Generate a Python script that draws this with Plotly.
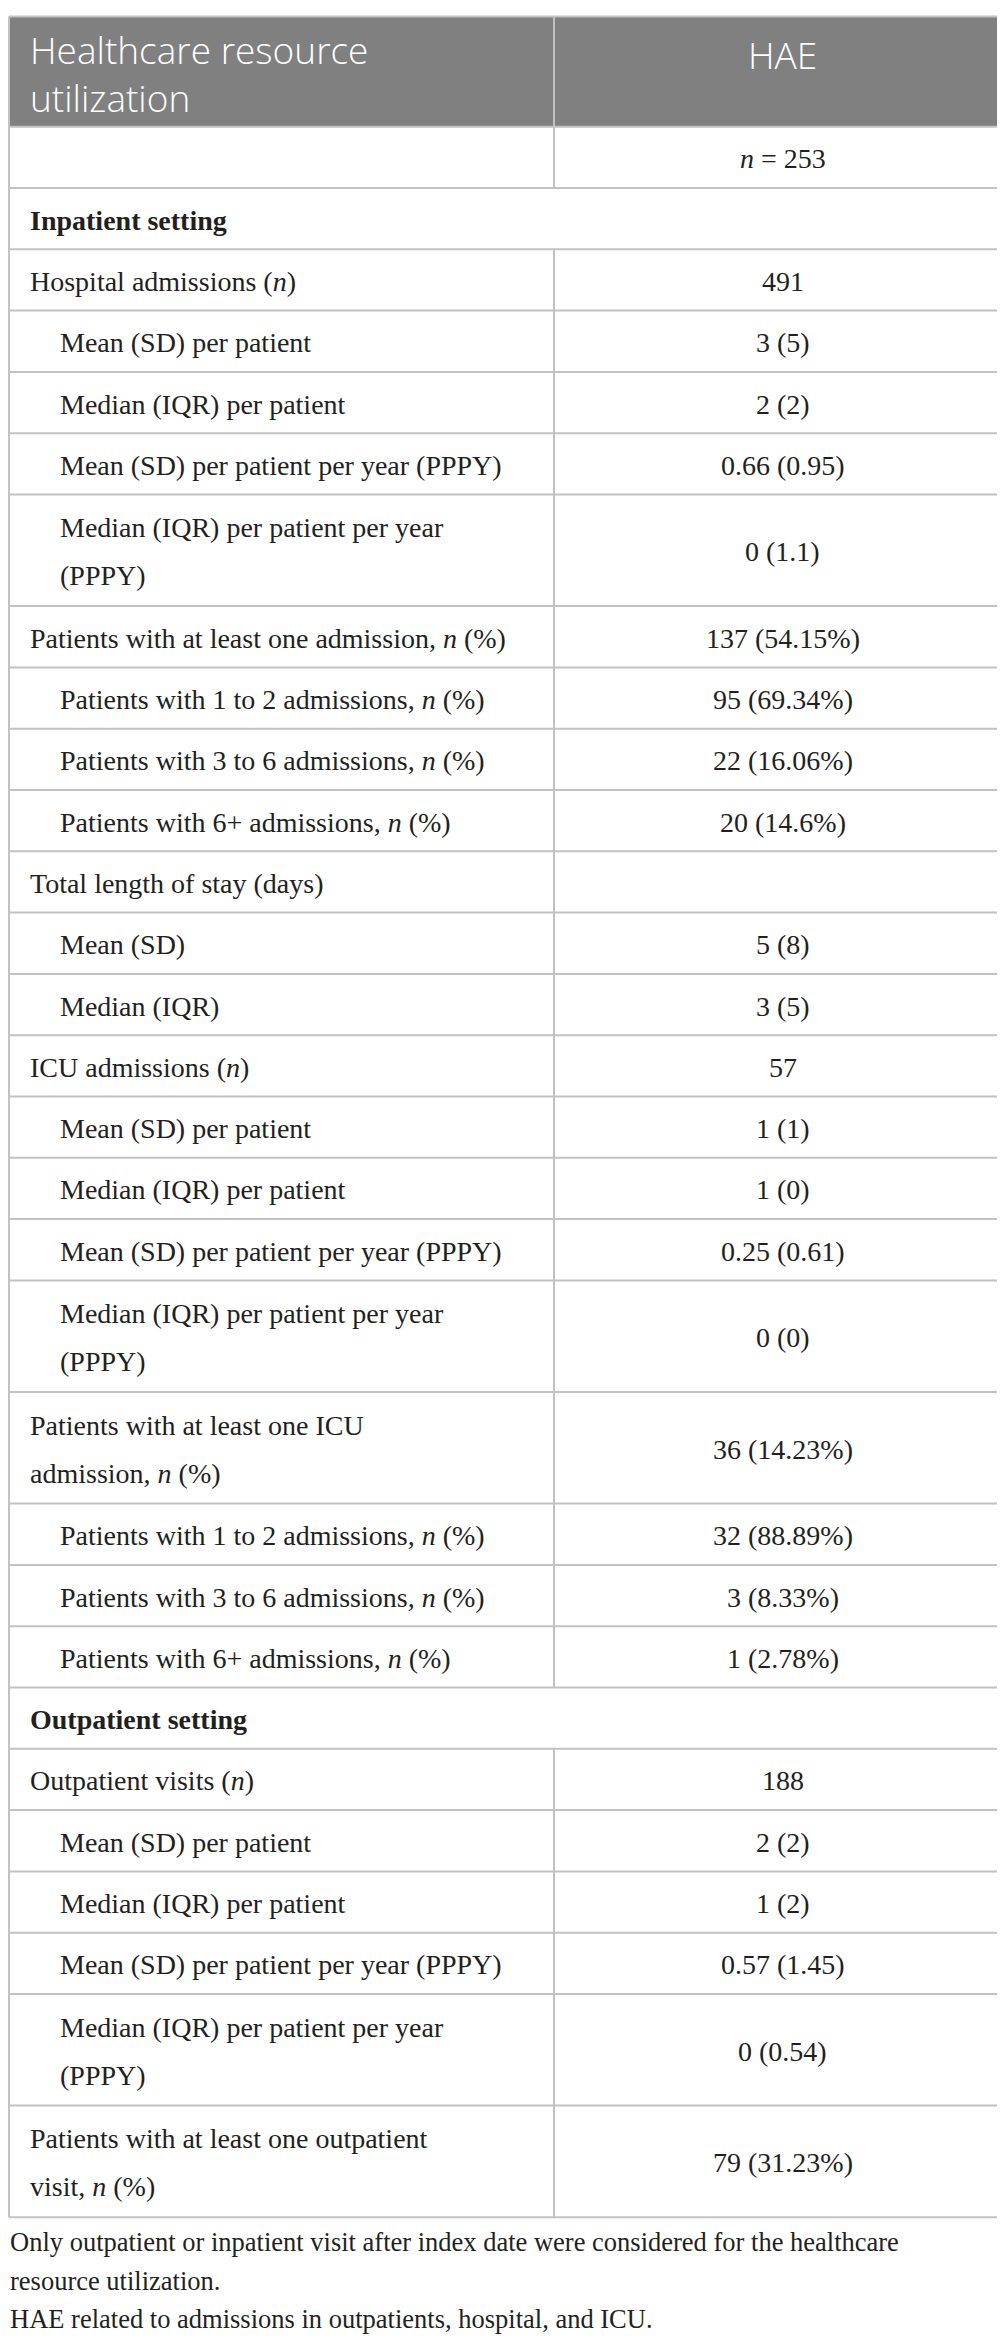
import plotly.graph_objects as go

# ---------------- data ----------------
header_labels = ["Healthcare resource<br>utilization", "HAE"]

row_labels = [
    "",
    "Inpatient setting",
    "Hospital admissions (<i>n</i>)",
    "Mean (SD) per patient",
    "Median (IQR) per patient",
    "Mean (SD) per patient per year (PPPY)",
    "Median (IQR) per patient per year<br>(PPPY)",
    "Patients with at least one admission, <i>n</i> (%)",
    "Patients with 1 to 2 admissions, <i>n</i> (%)",
    "Patients with 3 to 6 admissions, <i>n</i> (%)",
    "Patients with 6+ admissions, <i>n</i> (%)",
    "Total length of stay (days)",
    "Mean (SD)",
    "Median (IQR)",
    "ICU admissions (<i>n</i>)",
    "Mean (SD) per patient",
    "Median (IQR) per patient",
    "Mean (SD) per patient per year (PPPY)",
    "Median (IQR) per patient per year<br>(PPPY)",
    "Patients with at least one ICU<br>admission, <i>n</i> (%)",
    "Patients with 1 to 2 admissions, <i>n</i> (%)",
    "Patients with 3 to 6 admissions, <i>n</i> (%)",
    "Patients with 6+ admissions, <i>n</i> (%)",
    "Outpatient setting",
    "Outpatient visits (<i>n</i>)",
    "Mean (SD) per patient",
    "Median (IQR) per patient",
    "Mean (SD) per patient per year (PPPY)",
    "Median (IQR) per patient per year<br>(PPPY)",
    "Patients with at least one outpatient<br>visit, <i>n</i> (%)",
]

row_values = [
    "<i>n</i> = 253",
    "",
    "491",
    "3 (5)",
    "2 (2)",
    "0.66 (0.95)",
    "0 (1.1)",
    "137 (54.15%)",
    "95 (69.34%)",
    "22 (16.06%)",
    "20 (14.6%)",
    "",
    "5 (8)",
    "3 (5)",
    "57",
    "1 (1)",
    "1 (0)",
    "0.25 (0.61)",
    "0 (0)",
    "36 (14.23%)",
    "32 (88.89%)",
    "3 (8.33%)",
    "1 (2.78%)",
    "",
    "188",
    "2 (2)",
    "1 (2)",
    "0.57 (1.45)",
    "0 (0.54)",
    "79 (31.23%)",
]

# row kind: "section" spans both columns, "main" or "sub" (indented)
row_kinds = [
    "main", "section", "main", "sub", "sub", "sub", "sub", "main", "sub", "sub",
    "sub", "main", "sub", "sub", "main", "sub", "sub", "sub", "sub", "main",
    "sub", "sub", "sub", "section", "main", "sub", "sub", "sub", "sub", "main",
]

footnotes = [
    "Only outpatient or inpatient visit after index date were considered for the healthcare",
    "resource utilization.",
    "HAE related to admissions in outpatients, hospital, and ICU.",
]

# ---------------- layout constants ----------------
W, H = 1005, 2341
X_L, X_R, X_DIV = 1, 1003.5, 546
TOP = 8.5
HEADER_H = 110.2
ROW_H = 61.3
EXTRA_LINE_H = 50.3
LINE_GAP = 48
TEXT_X = 20
INDENT_X = 50
VAL_X = (X_DIV + X_R) / 2
TEXT_DY = 1.5

BODY_FONT = "Liberation Serif"
HEAD_FONT = "Open Sans"
TEXT_COLOR = "#231f20"
GRID_COLOR = "#c2c2c2"
HEAD_FILL = "#808080"

fig = go.Figure()
annotations = []
shapes = []

# header background
shapes.append(dict(type="rect", xref="x", yref="y", x0=X_L, x1=X_R,
                   y0=TOP, y1=TOP + HEADER_H, fillcolor=HEAD_FILL,
                   line=dict(width=0), layer="below"))

# header text (one multi-line text block)
hc = TOP + HEADER_H / 2 + 2
annotations.append(dict(x=TEXT_X, y=hc, xref="x", yref="y", text=header_labels[0],
                        showarrow=False, xanchor="left", yanchor="middle", align="left",
                        font=dict(family=HEAD_FONT, size=37, color="white", weight=300)))
annotations.append(dict(x=VAL_X, y=TOP + 38, xref="x", yref="y", text=header_labels[1],
                        showarrow=False, xanchor="center", yanchor="middle",
                        font=dict(family=HEAD_FONT, size=37, color="white", weight=300)))

# grid line coordinates
gx, gy = [], []
def seg(x0, y0, x1, y1):
    gx.extend([x0, x1, None])
    gy.extend([y0, y1, None])

seg(X_L, TOP, X_R, TOP)
seg(X_L, TOP + HEADER_H, X_R, TOP + HEADER_H)
seg(X_DIV, TOP, X_DIV, TOP + HEADER_H)

y_top = TOP + HEADER_H
for lab, val, kind in zip(row_labels, row_values, row_kinds):
    lines = lab.split("<br>")
    h = ROW_H + (len(lines) - 1) * EXTRA_LINE_H
    yc = y_top + h / 2 + TEXT_DY
    x_text = INDENT_X if kind == "sub" else TEXT_X
    for k, ln in enumerate(lines):
        if not ln:
            continue
        y = yc + (k - (len(lines) - 1) / 2) * LINE_GAP
        txt = f"<b>{ln}</b>" if kind == "section" else ln
        annotations.append(dict(x=x_text, y=y, xref="x", yref="y", text=txt,
                                showarrow=False, xanchor="left", yanchor="middle",
                                font=dict(family=BODY_FONT, size=28, color=TEXT_COLOR)))
    if val:
        annotations.append(dict(x=VAL_X, y=yc, xref="x", yref="y", text=val,
                                showarrow=False, xanchor="center", yanchor="middle",
                                font=dict(family=BODY_FONT, size=28, color=TEXT_COLOR)))
    if kind != "section":
        seg(X_DIV, y_top, X_DIV, y_top + h)
    y_top += h
    seg(X_L, y_top, X_R, y_top)

table_bottom = y_top
seg(X_L, TOP, X_L, table_bottom)
seg(X_R, TOP, X_R, table_bottom)

fig.add_trace(go.Scatter(x=gx, y=gy, mode="lines",
                         line=dict(color=GRID_COLOR, width=2),
                         hoverinfo="skip", showlegend=False))

# footnotes
for k, ln in enumerate(footnotes):
    annotations.append(dict(x=0, y=table_bottom + 25 + k * 38.5, xref="x", yref="y",
                            text=ln, showarrow=False, xanchor="left", yanchor="middle",
                            font=dict(family=BODY_FONT, size=26.5, color=TEXT_COLOR)))

fig.update_layout(
    width=W, height=H,
    margin=dict(l=0, r=0, t=0, b=0),
    paper_bgcolor="white", plot_bgcolor="white",
    xaxis=dict(range=[0, W], visible=False, fixedrange=True),
    yaxis=dict(range=[H, 0], visible=False, fixedrange=True),
    shapes=shapes, annotations=annotations,
    showlegend=False,
)

fig.write_html("out.html", config={"displayModeBar": False})
